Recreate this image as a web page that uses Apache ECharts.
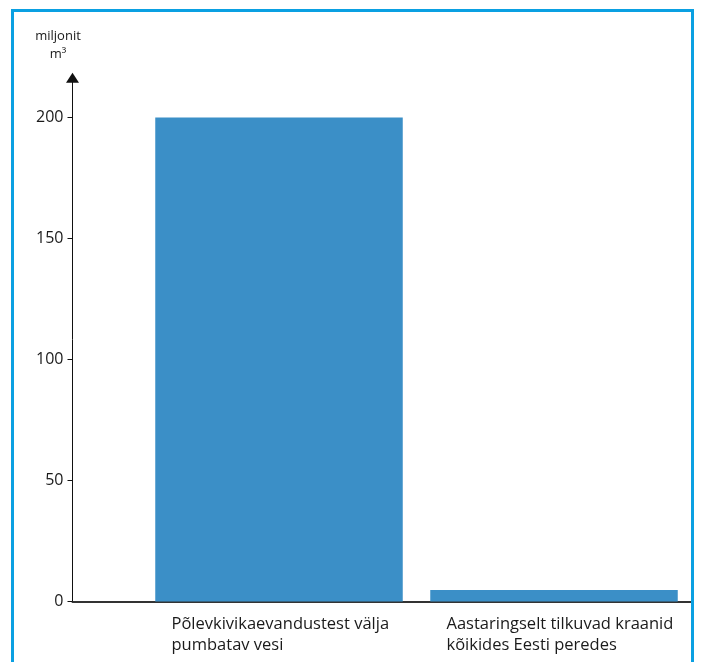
<!DOCTYPE html>
<html>
<head>
<meta charset="utf-8">
<script src="https://cdn.jsdelivr.net/npm/echarts@6/dist/echarts.min.js"></script>
<style>
  html, body { margin: 0; padding: 0; background: #fff; }
  #chart { width: 701px; height: 662px; }
</style>
</head>
<body>
<div id="chart"></div>
<script>
// Water volumes, million cubic metres
const categories = [
  'Põlevkivikaevandustest välja\npumbatav vesi',
  'Aastaringselt tilkuvad kraanid\nkõikides Eesti peredes'
];
const values = [200, 4.8];
const yTicks = [0, 50, 100, 150, 200];
const unitLabel = 'miljonit\nm³';

const FONT = 'Open Sans';
const TEXT = '#1a1a1a';
const AXIS_MAX = 216.5;

const chart = echarts.init(document.getElementById('chart'), null, { renderer: 'canvas' });

chart.setOption({
  animation: false,
  backgroundColor: '#ffffff',
  title: {
    text: unitLabel,
    left: 53,
    top: 23,
    textAlign: 'center',
    textStyle: { fontFamily: FONT, fontSize: 13, fontWeight: 'normal', color: TEXT, lineHeight: 17.5 }
  },
  graphic: [{
    type: 'rect',
    shape: { x: 12.5, y: 10.5, width: 680, height: 680 },
    style: { fill: 'none', stroke: '#0aa0e2', lineWidth: 3 },
    silent: true,
    z: 100
  }],
  grid: [
    // bars
    { left: 141.5, right: 9.5, top: 77.7, bottom: 60.5, outerBoundsMode: 'none' },
    // frame axes with the arrow
    { left: 72.5, right: 9.5, top: 77.7, bottom: 60.5, outerBoundsMode: 'none' }
  ],
  xAxis: [
    {
      type: 'category', gridIndex: 0, data: categories, show: false
    },
    {
      type: 'category', gridIndex: 0, position: 'bottom',
      data: categories.concat(['']),
      boundaryGap: false,
      axisLine: { show: false },
      axisTick: { show: false },
      axisLabel: {
        align: 'left', margin: 12, padding: [0, 0, 0, 30],
        fontFamily: FONT, fontSize: 16.5, color: TEXT, lineHeight: 21.5,
        interval: 0
      }
    },
    {
      type: 'value', gridIndex: 1, min: 0, max: 1,
      axisLine: { show: true, lineStyle: { color: '#333333', width: 2 } },
      axisTick: { show: false },
      axisLabel: { show: false },
      splitLine: { show: false }
    }
  ],
  yAxis: [
    { type: 'value', gridIndex: 0, min: 0, max: AXIS_MAX, show: false },
    {
      type: 'value', gridIndex: 1, min: 0, max: AXIS_MAX,
      axisLine: {
        show: true,
        symbol: ['none', 'triangle'],
        symbolSize: [13, 10],
        lineStyle: { color: '#111111', width: 1 }
      },
      axisTick: { show: true, length: 5, customValues: yTicks, lineStyle: { color: '#111111' } },
      axisLabel: {
        customValues: yTicks, margin: 9,
        fontFamily: FONT, fontSize: 16, color: TEXT
      },
      splitLine: { show: false }
    }
  ],
  series: [{
    type: 'bar',
    xAxisIndex: 0,
    yAxisIndex: 0,
    data: values,
    barCategoryGap: '10%',
    itemStyle: { color: '#3b8fc7' },
    z: 1
  }]
});
</script>
</body>
</html>
